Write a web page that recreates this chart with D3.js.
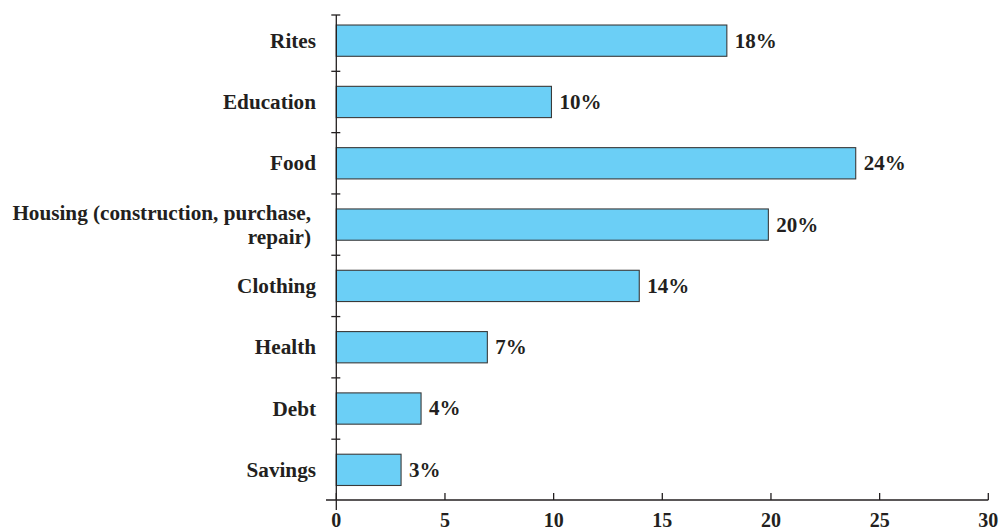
<!DOCTYPE html>
<html>
<head>
<meta charset="utf-8">
<script src="https://cdn.jsdelivr.net/npm/d3@7/dist/d3.min.js"></script>
<style>
  html, body { margin: 0; padding: 0; background: #fff; }
  svg { display: block; }
  text { font-family: "Liberation Serif", "Times New Roman", serif; font-weight: bold; fill: #231f20; }
</style>
</head>
<body>
<svg id="chart" width="999" height="530"></svg>
<script>
const categories = ["Rites", "Education", "Food", "Housing (construction, purchase,|repair)", "Clothing", "Health", "Debt", "Savings"];
const values = [17.97, 9.9, 23.9, 19.88, 13.94, 6.95, 3.9, 2.98];
const valueLabels = ["18%", "10%", "24%", "20%", "14%", "7%", "4%", "3%"];
const xTicks = [0, 5, 10, 15, 20, 25, 30];

const svg = d3.select("#chart");
const x = d3.scaleLinear().domain([0, 30]).range([336.3, 988.3]);
const y = d3.scaleBand().domain(categories).range([10, 500.5]).paddingInner(0.49).paddingOuter(0.245);
const axisColor = "#231f20";

// bars
svg.selectAll("rect.bar").data(categories).enter().append("rect")
  .attr("class", "bar")
  .attr("x", x(0))
  .attr("y", d => y(d))
  .attr("width", (d, i) => x(values[i]) - x(0))
  .attr("height", y.bandwidth())
  .attr("fill", "#6bcff6")
  .attr("stroke", "#3a3a3a")
  .attr("stroke-width", 1.1);

// value labels
svg.selectAll("text.val").data(categories).enter().append("text")
  .attr("class", "val")
  .attr("x", (d, i) => x(values[i]) + 8)
  .attr("y", d => y(d) + y.bandwidth() / 2)
  .attr("dy", "0.33em")
  .attr("font-size", "21px")
  .text((d, i) => valueLabels[i]);

// category labels
svg.selectAll("text.cat").data(categories).enter().append("text")
  .attr("class", "cat")
  .attr("text-anchor", "end")
  .attr("font-size", "21.2px")
  .each(function(d) {
    const lines = d.split("|");
    const cy = y(d) + y.bandwidth() / 2;
    const t = d3.select(this);
    const lh = 24;
    const startY = cy - (lines.length - 1) * lh / 2;
    lines.forEach((ln, j) => {
      t.append("tspan")
        .attr("x", lines.length > 1 ? 311 : 316)
        .attr("y", startY + j * lh)
        .attr("dy", "0.33em")
        .text(ln);
    });
  });

// y axis line
svg.append("line")
  .attr("x1", x(0)).attr("x2", x(0))
  .attr("y1", 15).attr("y2", 510)
  .attr("stroke", axisColor).attr("stroke-width", 1.3);

// y axis ticks (band boundaries)
const step = y.step();
const yTickPos = [15].concat(categories.slice(1).map(c => y(c) - (step - y.bandwidth()) / 2));
svg.selectAll("line.ytick").data(yTickPos).enter().append("line")
  .attr("class", "ytick")
  .attr("x1", x(0) - 5).attr("x2", x(0) + 4)
  .attr("y1", d => d).attr("y2", d => d)
  .attr("stroke", axisColor).attr("stroke-width", 1.3);

// x axis
svg.append("line")
  .attr("x1", 326).attr("x2", x(30))
  .attr("y1", 500).attr("y2", 500)
  .attr("stroke", axisColor).attr("stroke-width", 1.3);

svg.selectAll("line.xtick").data(xTicks).enter().append("line")
  .attr("class", "xtick")
  .attr("x1", d => x(d)).attr("x2", d => x(d))
  .attr("y1", 493).attr("y2", 500)
  .attr("stroke", axisColor).attr("stroke-width", 1.3);

svg.selectAll("text.xlab").data(xTicks).enter().append("text")
  .attr("class", "xlab")
  .attr("x", d => x(d))
  .attr("y", 527)
  .attr("text-anchor", "middle")
  .attr("font-size", "20px")
  .text(d => d);
</script>
</body>
</html>
